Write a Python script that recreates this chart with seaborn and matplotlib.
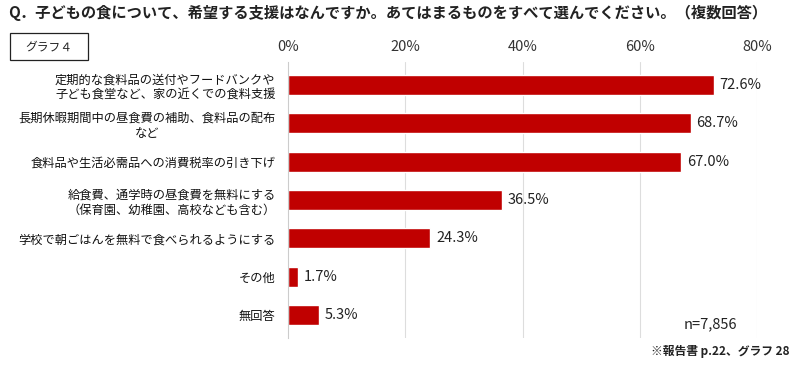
import pandas as pd
import matplotlib.pyplot as plt
import seaborn as sns
from matplotlib.patches import Rectangle

labels = ["定期的な食料品の送付やフードバンクや\n子ども食堂など、家の近くでの食料支援",
          "長期休暇期間中の昼食費の補助、食料品の配布\nなど",
          "食料品や生活必需品への消費税率の引き下げ",
          "給食費、通学時の昼食費を無料にする\n（保育園、幼稚園、高校なども含む）",
          "学校で朝ごはんを無料で食べられるようにする",
          "その他",
          "無回答"]
values = [72.6, 68.7, 67.0, 36.5, 24.3, 1.7, 5.3]
xticks = [0, 20, 40, 60, 80]

df = pd.DataFrame({'label': labels, 'value': values})

sns.set_style("white")
plt.rcParams['font.family'] = ['Noto Sans CJK JP', 'DejaVu Sans']

fig = plt.figure(figsize=(7.97, 3.65), dpi=100)
ax = fig.add_axes([0.3614, 0.074, 0.5884, 0.756])

sns.barplot(data=df, x='value', y='label', color='#C00000', width=0.52,
            saturation=1, ax=ax)

for i, v in enumerate(values):
    ax.text(v + 1.0, i, f"{v:.1f}%", va='center', ha='left', fontsize=10.5,
            color='#222222')

ax.set_xlim(0, 80)
ax.set_ylim(6.6, -0.6)
ax.set_xticks(xticks)
ax.set_xticklabels([f"{t}%" for t in xticks], fontsize=10.5, color='#333333')
ax.xaxis.tick_top()
ax.tick_params(axis='x', length=0, pad=6)
ax.tick_params(axis='y', length=0, pad=9)
for t in ax.get_yticklabels():
    t.set_fontsize(8.8)
    t.set_multialignment('center')
    t.set_color('#111111')
ax.set_xlabel('')
ax.set_ylabel('')
for s in ['top', 'right', 'bottom']:
    ax.spines[s].set_visible(False)
ax.spines['left'].set_color('#cccccc')
for t in xticks[1:]:
    ax.axvline(t, color='#dddddd', lw=0.8, zorder=0)

fig.text(0.010, 0.965, "Q．子どもの食について、希望する支援はなんですか。あてはまるものをすべて選んでください。（複数回答）",
         fontsize=11, fontweight='bold', va='center', ha='left', color='#222222')
fig.patches.append(Rectangle((10 / 797, 1 - 60 / 365), 78 / 797, 27 / 365,
                             transform=fig.transFigure, fill=False,
                             edgecolor='#222222', lw=0.9))
fig.text(49 / 797, 1 - 46.5 / 365, "グラフ４", fontsize=8.5, ha='center',
         va='center', color='#222222')
fig.text(0.891, 1 - 324 / 365, "n=7,856", fontsize=10.5, ha='center',
         va='center', color='#222222')
fig.text(0.99, 1 - 352 / 365, "※報告書 p.22、グラフ 28", fontsize=8.5,
         fontweight='bold', ha='right', va='center', color='#222222')

fig.savefig('out.png', dpi=100)
